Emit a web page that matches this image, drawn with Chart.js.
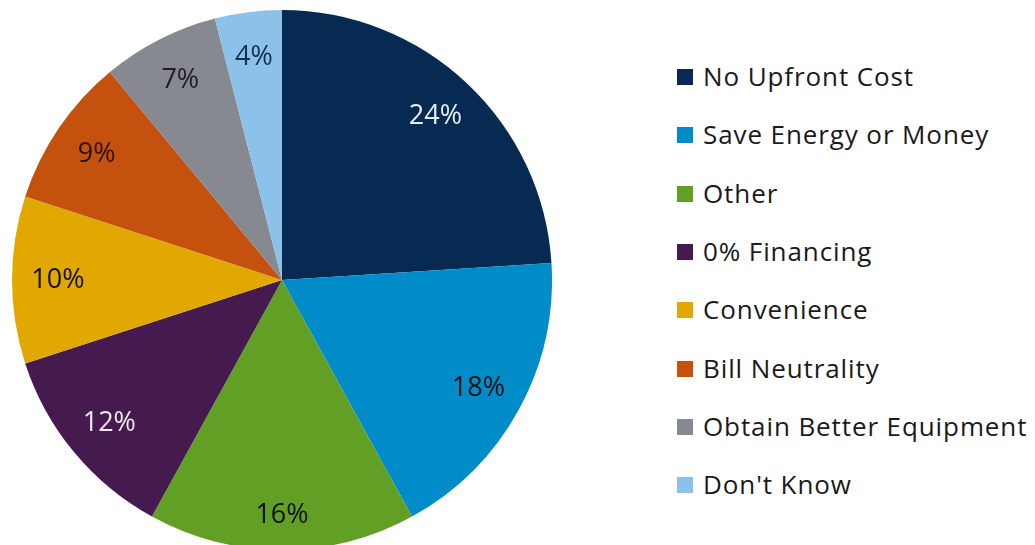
<!DOCTYPE html>
<html>
<head>
<meta charset="utf-8">
<script src="https://cdn.jsdelivr.net/npm/chart.js@4.4.1/dist/chart.umd.min.js"></script>
<style>
  html, body { margin: 0; padding: 0; background: #fff; }
  body { width: 1035px; height: 545px; overflow: hidden; position: relative; font-family: 'Open Sans', sans-serif; }
  #pieWrap { position: absolute; left: 12px; top: 10px; width: 540px; height: 540px; }
  #legend { position: absolute; left: 677px; top: 0; }
  .lg-item { position: absolute; left: 0; white-space: nowrap; font-size: 26px; letter-spacing: 0.9px; color: #1a1a1a; line-height: 30px; transform: translateY(-50%); }
  .lg-box { display: inline-block; width: 16px; height: 16px; margin-right: 10px; vertical-align: middle; position: relative; top: -2px; }
</style>
</head>
<body>
<div id="pieWrap"><canvas id="pieChart"></canvas></div>
<div id="legend"></div>
<script>
const labels = ['No Upfront Cost', 'Save Energy or Money', 'Other', '0% Financing', 'Convenience', 'Bill Neutrality', 'Obtain Better Equipment', "Don't Know"];
const shares = [24, 18, 16, 12, 10, 9, 7, 4];
const colors = ['#072a52', '#008bc9', '#61a024', '#451b4f', '#e0a800', '#c5510f', '#878991', '#8cc1ea'];
const labelColors = ['#e8eef5', '#111', '#111', '#ece6ef', '#111', '#2a1208', '#1e1e24', '#14304a'];

// percent text inside each slice
const sliceLabels = {
  id: 'sliceLabels',
  afterDatasetsDraw(chart) {
    const ctx = chart.ctx;
    const arcs = chart.getDatasetMeta(0).data;
    ctx.save();
    ctx.font = '27px "Open Sans", sans-serif';
    ctx.textAlign = 'center';
    ctx.textBaseline = 'middle';
    arcs.forEach((arc, i) => {
      const mid = (arc.startAngle + arc.endAngle) / 2;
      const r = arc.outerRadius * (i === 2 ? 0.87 : 0.83);
      ctx.fillStyle = labelColors[i];
      ctx.fillText(shares[i] + '%', arc.x + Math.cos(mid) * r, arc.y + Math.sin(mid) * r);
    });
    ctx.restore();
  }
};

new Chart(document.getElementById('pieChart'), {
  type: 'pie',
  data: { labels: labels, datasets: [{ data: shares, backgroundColor: colors, borderWidth: 0 }] },
  options: {
    responsive: true,
    maintainAspectRatio: false,
    animation: false,
    layout: { padding: 0 },
    plugins: { legend: { display: false }, tooltip: { enabled: false } }
  },
  plugins: [sliceLabels]
});

const legend = document.getElementById('legend');
legend.innerHTML = labels.map((l, i) =>
  `<div class="lg-item" style="top:${76 + i * 58.3}px"><span class="lg-box" style="background:${colors[i]}"></span>${l}</div>`
).join('');
</script>
</body>
</html>
